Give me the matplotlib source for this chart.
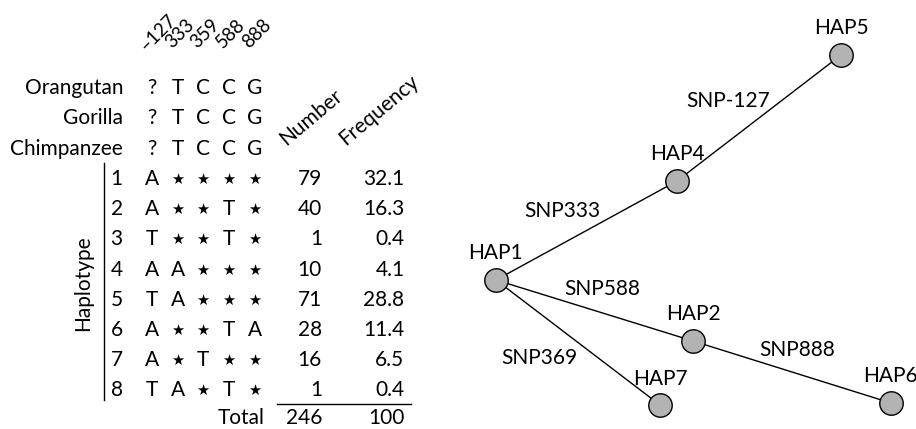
import matplotlib
matplotlib.use("Agg")
import matplotlib.pyplot as plt

# ---------------- data ----------------
snp_positions = ["–127", "333", "359", "588", "888"]
outgroups = ["Orangutan", "Gorilla", "Chimpanzee"]
outgroup_alleles = [list("?TCCG"), list("?TCCG"), list("?TCCG")]
haplotype_ids = ["1", "2", "3", "4", "5", "6", "7", "8"]
haplotype_alleles = [
    ["A", "★", "★", "★", "★"],
    ["A", "★", "★", "T", "★"],
    ["T", "★", "★", "T", "★"],
    ["A", "A", "★", "★", "★"],
    ["T", "A", "★", "★", "★"],
    ["A", "★", "★", "T", "A"],
    ["A", "★", "T", "★", "★"],
    ["T", "A", "★", "T", "★"],
]
numbers = [79, 40, 1, 10, 71, 28, 16, 1]
frequencies = [32.1, 16.3, 0.4, 4.1, 28.8, 11.4, 6.5, 0.4]
total_number = 246
total_frequency = 100

nodes = ["HAP1", "HAP2", "HAP4", "HAP5", "HAP6", "HAP7"]
edges = [("HAP1", "HAP4"), ("HAP4", "HAP5"), ("HAP1", "HAP2"),
         ("HAP2", "HAP6"), ("HAP1", "HAP7")]
edge_labels = ["SNP333", "SNP-127", "SNP588", "SNP888", "SNP369"]

# ---------------- layout (pixel space) ----------------
node_pos = {"HAP1": (496, 280), "HAP2": (693, 341), "HAP4": (677, 181),
            "HAP5": (841, 55), "HAP6": (891, 403), "HAP7": (660, 405)}
node_label_pos = {"HAP1": (495, 259), "HAP2": (693, 320), "HAP4": (677, 160),
                  "HAP5": (841, 34), "HAP6": (890, 382), "HAP7": (660, 385)}
edge_label_pos = [(562, 217), (728, 107), (602, 295), (797, 356), (539, 364)]

FONT = ["Lato", "DejaVu Sans"]
plt.rcParams["font.family"] = FONT
FS = 15

fig = plt.figure(figsize=(9.16, 4.29), dpi=100)
ax = fig.add_axes([0, 0, 1, 1])
ax.set_xlim(0, 916)
ax.set_ylim(429, 0)
ax.axis("off")

col_x = [152, 178, 203, 229, 255]
row0 = 94.3
step = 30.2
label_right = 123
num_right = 322
freq_right = 404.5

# column headers (rotated)
for i, s in enumerate(snp_positions):
    ax.text(col_x[i] - 6, 52 if i == 0 else 49, s, rotation=45, rotation_mode="anchor",
            ha="left", va="baseline", fontsize=13.5)

ax.text(286, 146, "Number", rotation=40, rotation_mode="anchor",
        ha="left", va="baseline", fontsize=FS)
ax.text(346, 146, "Frequency", rotation=40, rotation_mode="anchor",
        ha="left", va="baseline", fontsize=FS)

def cell(x, y, s):
    if s == "★":
        ax.text(x, y - 1, s, ha="center", va="baseline", fontsize=10.5,
                family=["DejaVu Sans"])
    else:
        ax.text(x, y, s, ha="center", va="baseline", fontsize=FS)

# outgroups
for r, (name, alle) in enumerate(zip(outgroups, outgroup_alleles)):
    y = row0 + r * step
    ax.text(label_right, y, name, ha="right", va="baseline", fontsize=FS)
    for c, a in enumerate(alle):
        cell(col_x[c], y, a)

# haplotypes
for r, (hid, alle, n, f) in enumerate(zip(haplotype_ids, haplotype_alleles,
                                          numbers, frequencies)):
    y = row0 + (r + 3) * step
    ax.text(116.7, y, hid, ha="center", va="baseline", fontsize=FS)
    for c, a in enumerate(alle):
        cell(col_x[c], y, a)
    ax.text(num_right, y, str(n), ha="right", va="baseline", fontsize=FS)
    ax.text(freq_right, y, f"{f:.1f}", ha="right", va="baseline", fontsize=FS)

ytot = 423.5
ax.text(265, ytot, "Total", ha="right", va="baseline", fontsize=FS)
ax.text(num_right, ytot, str(total_number), ha="right", va="baseline", fontsize=FS)
ax.text(freq_right, ytot, str(total_frequency), ha="right", va="baseline", fontsize=FS)

ax.plot([104, 104], [163, 400], color="black", lw=1)
ax.plot([277, 411], [403.5, 403.5], color="black", lw=1)
ax.text(83, 283, "Haplotype", rotation=90, ha="center", va="center", fontsize=FS)

# network
for (a, b), lab, lp in zip(edges, edge_labels, edge_label_pos):
    (x1, y1), (x2, y2) = node_pos[a], node_pos[b]
    ax.plot([x1, x2], [y1, y2], color="black", lw=1, zorder=1)
    ax.text(lp[0], lp[1], lab, ha="center", va="baseline", fontsize=FS)

xs = [node_pos[n][0] for n in nodes]
ys = [node_pos[n][1] for n in nodes]
ax.scatter(xs, ys, s=285, c="#b3b3b3", edgecolors="black", linewidths=1, zorder=3)
for n in nodes:
    x, y = node_label_pos[n]
    ax.text(x, y, n, ha="center", va="baseline", fontsize=FS)

fig.savefig("out.png", dpi=100)
